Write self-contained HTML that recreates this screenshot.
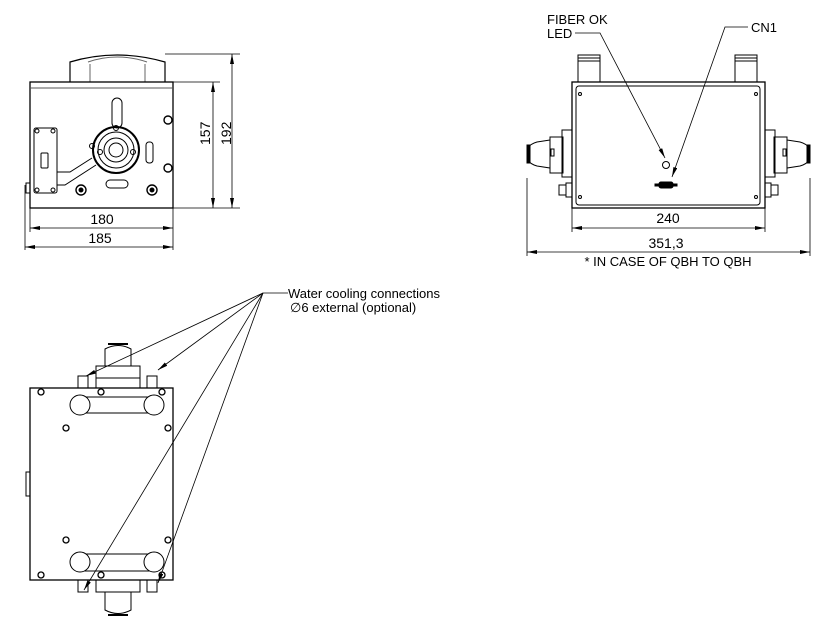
<!DOCTYPE html>
<html><head><style>body{margin:0;background:#fff}svg{display:block}text{font-family:"Liberation Sans",sans-serif;fill:#000}</style></head><body>
<svg width="824" height="636" viewBox="0 0 824 636" xmlns="http://www.w3.org/2000/svg" fill="none" stroke="#000" stroke-width="1">
<defs><marker id="a" viewBox="0 0 10 4" refX="10" refY="2" markerWidth="10" markerHeight="4" orient="auto-start-reverse" markerUnits="userSpaceOnUse"><path d="M0,0L10,2L0,4z" fill="#000" stroke="none"/></marker></defs>
<!-- View 1 -->
<path d="M70,82V62Q117,48 165,62V82" stroke-width="1.2"/>
<path d="M90,82V64M145,82V64M88,62Q117,52 147,62" stroke="#666"/>
<rect x="30" y="82" width="143" height="126" stroke-width="1.3"/>
<line x1="30" y1="88" x2="173" y2="88" stroke="#555"/>
<rect x="26" y="183" width="4" height="10"/>
<rect x="112" y="98" width="10" height="30" rx="5"/>
<circle cx="116" cy="150" r="23" stroke-width="2"/><circle cx="116" cy="150" r="18"/><circle cx="116" cy="150" r="12"/><circle cx="116" cy="150" r="7"/>
<circle cx="100" cy="152" r="2.5"/><circle cx="133" cy="152" r="2.5"/><circle cx="116" cy="128" r="2.5"/><circle cx="92" cy="146" r="2.5"/>
<rect x="146" y="142" width="7" height="21" rx="3"/>
<rect x="106" y="180" width="22" height="8" rx="4"/>
<rect x="34" y="128" width="23" height="65" rx="2"/>
<rect x="41" y="153" width="7" height="15" rx="1"/>
<path d="M57,172H70L92,158M57,185H65L96,165"/>
<circle cx="81" cy="190" r="5" stroke-width="1.4"/><circle cx="81" cy="190" r="2" fill="#000"/><circle cx="152" cy="190" r="5" stroke-width="1.4"/><circle cx="152" cy="190" r="2" fill="#000"/>
<circle cx="168" cy="120" r="4" stroke-width="1.4"/><circle cx="168" cy="168" r="4" stroke-width="1.4"/>
<circle cx="37" cy="131" r="2"/><circle cx="53" cy="131" r="2"/><circle cx="37" cy="190" r="2"/><circle cx="53" cy="190" r="2"/>
<g stroke-width="0.8">
<path d="M173,82H220M165,54H240M173,208H240M25,185V250M30,208V232M173,208V250"/>
<line x1="213" y1="82" x2="213" y2="208" marker-start="url(#a)" marker-end="url(#a)"/>
<line x1="232" y1="54" x2="232" y2="208" marker-start="url(#a)" marker-end="url(#a)"/>
<line x1="30" y1="228" x2="173" y2="228" marker-start="url(#a)" marker-end="url(#a)"/>
<line x1="25" y1="247" x2="173" y2="247" marker-start="url(#a)" marker-end="url(#a)"/>
</g>
<g stroke="none" font-size="14">
<text x="210" y="145" transform="rotate(-90 210 145)" style="fill:#000">157</text>
<text x="231" y="145" transform="rotate(-90 231 145)" style="fill:#000">192</text>
<text x="102" y="224" text-anchor="middle" style="fill:#000">180</text>
<text x="100" y="243" text-anchor="middle" style="fill:#000">185</text>
</g>
<!-- View 2 -->
<rect x="578" y="58" width="22" height="24"/><rect x="578" y="55" width="22" height="6"/>
<rect x="735" y="58" width="22" height="24"/><rect x="735" y="55" width="22" height="6"/>
<rect x="572" y="82" width="193" height="126" stroke-width="1.3"/>
<rect x="576" y="86" width="184" height="119" rx="3"/>
<circle cx="580" cy="94" r="1.5"/><circle cx="756" cy="94" r="1.5"/><circle cx="580" cy="197" r="1.5"/><circle cx="756" cy="197" r="1.5"/>
<!-- left connector -->
<path d="M550,140L537,142Q530,144 528,148V160Q530,164 537,166L550,168Z"/>
<rect x="527" y="145" width="3" height="18" fill="#000"/>
<rect x="550" y="137" width="13" height="36"/>
<rect x="562" y="130" width="10" height="47"/>
<rect x="551" y="149" width="3" height="7"/>
<rect x="559" y="185" width="7" height="10"/><rect x="566" y="183" width="6" height="14"/>
<!-- right connector -->
<path d="M787,140L800,142Q807,144 809,148V160Q807,164 800,166L787,168Z"/>
<rect x="807" y="145" width="3" height="18" fill="#000"/>
<rect x="774" y="137" width="13" height="36"/>
<rect x="765" y="130" width="10" height="47"/>
<rect x="783" y="149" width="3" height="7"/>
<rect x="771" y="185" width="7" height="10"/><rect x="765" y="183" width="6" height="14"/>
<circle cx="666" cy="165" r="3.5"/>
<rect x="659" y="182" width="14" height="6" rx="2" fill="#000"/>
<rect x="655" y="184" width="22" height="2" fill="#000"/>
<path d="M575,33H600L665,158" stroke-width="0.8" marker-end="url(#a)"/>
<path d="M748,27H725L672,177" stroke-width="0.8" marker-end="url(#a)"/>
<g stroke-width="0.8">
<path d="M572,208V232M765,208V232M527,178V256M810,178V256"/>
<line x1="572" y1="228" x2="765" y2="228" marker-start="url(#a)" marker-end="url(#a)"/>
<line x1="527" y1="252" x2="810" y2="252" marker-start="url(#a)" marker-end="url(#a)"/>
</g>
<g stroke="none" font-size="13">
<text x="547" y="24" style="fill:#000">FIBER OK</text>
<text x="547" y="38" style="fill:#000">LED</text>
<text x="751" y="32" style="fill:#000">CN1</text>
<text x="668" y="223" text-anchor="middle" font-size="14" style="fill:#000">240</text>
<text x="666" y="248" text-anchor="middle" font-size="14" style="fill:#000">351,3</text>
<text x="668" y="266" text-anchor="middle" style="fill:#000">* IN CASE OF QBH TO QBH</text>
</g>
<!-- View 3 -->
<path d="M105,366V349Q118,342 131,349V366"/><path d="M108,344H128" stroke-width="2"/>
<rect x="96" y="366" width="44" height="12"/><rect x="96" y="378" width="44" height="10"/>
<rect x="78" y="376" width="10" height="12"/><rect x="147" y="376" width="10" height="12"/>
<rect x="30" y="388" width="143" height="192" stroke-width="1.3"/>
<rect x="26" y="472" width="4" height="24"/>
<path d="M80,397H154M80,413H154M80,554H154M80,571H154"/>
<circle cx="80" cy="405" r="10" fill="#fff"/><circle cx="154" cy="405" r="10" fill="#fff"/>
<circle cx="80" cy="562" r="10" fill="#fff"/><circle cx="154" cy="562" r="10" fill="#fff"/>
<g stroke-width="1.3"><circle cx="41" cy="392" r="3"/><circle cx="101" cy="392" r="3"/><circle cx="162" cy="392" r="3"/><circle cx="66" cy="428" r="3"/><circle cx="168" cy="428" r="3"/><circle cx="66" cy="540" r="3"/><circle cx="168" cy="540" r="3"/><circle cx="41" cy="575" r="3"/><circle cx="101" cy="575" r="3"/><circle cx="162" cy="575" r="3"/></g>
<rect x="96" y="580" width="44" height="12"/><path d="M105,592V610Q118,617 131,610V592"/><path d="M108,615H128" stroke-width="2"/>
<rect x="78" y="580" width="10" height="12"/><rect x="147" y="580" width="10" height="12"/>
<g stroke-width="0.8">
<path d="M288,293H263"/>
<path d="M263,293L86,376" marker-end="url(#a)"/>
<path d="M263,293L158,370" marker-end="url(#a)"/>
<path d="M263,293L84,590" marker-end="url(#a)"/>
<path d="M263,293L158,583" marker-end="url(#a)"/>
</g>
<g stroke="none" font-size="13">
<text x="288" y="298" style="fill:#000">Water cooling connections</text>
<text x="290" y="312" style="fill:#000">∅6 external (optional)</text>
</g>
</svg>
</body></html>
